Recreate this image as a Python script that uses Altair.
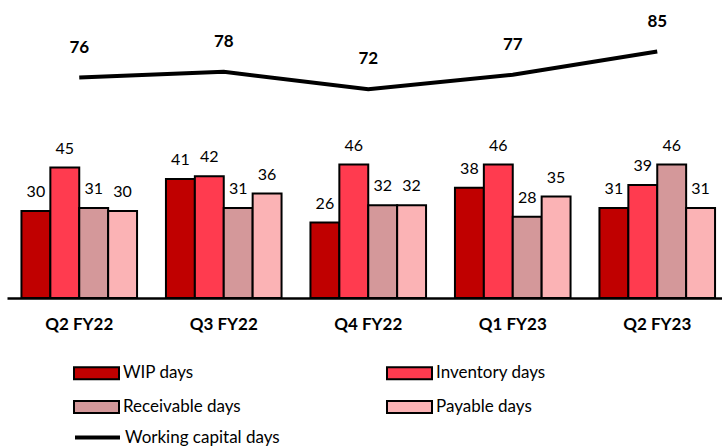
import altair as alt
import pandas as pd

quarters = ["Q2 FY22", "Q3 FY22", "Q4 FY22", "Q1 FY23", "Q2 FY23"]
series = ["WIP days", "Inventory days", "Receivable days", "Payable days"]
colors = ["#C00000", "#FF3B4F", "#D4989A", "#FBB3B5"]
wip = [30, 41, 26, 38, 31]
inventory = [45, 42, 46, 46, 39]
receivable = [31, 31, 32, 28, 46]
payable = [30, 36, 32, 35, 31]
working_capital = [76, 78, 72, 77, 85]

rows = []
for i, q in enumerate(quarters):
    for s, vals in zip(series, [wip, inventory, receivable, payable]):
        rows.append({"quarter": q, "series": s, "value": vals[i]})
bars_df = pd.DataFrame(rows)
line_df = pd.DataFrame({"quarter": quarters, "value": working_capital,
                        "series": ["Working capital days"] * len(quarters)})

FONT = "Lato"

xscale = alt.Scale(domain=quarters, range=[0, 722.5], paddingInner=0.2, paddingOuter=0.1)
yscale = alt.Scale(domain=[0, 100])

x = alt.X("quarter:N", scale=xscale, sort=quarters,
          axis=alt.Axis(title=None, labelAngle=0, domainColor="black", domainWidth=2.5,
                        ticks=False, labelFont=FONT, labelFontWeight="bold", labelFontSize=17,
                        labelColor="black", labelPadding=26, labelBaseline="middle"))
y = alt.Y("value:Q", scale=yscale, axis=None)
xoff = alt.XOffset("series:N", sort=series, scale=alt.Scale(domain=series, paddingInner=0, paddingOuter=0))

bars = alt.Chart(bars_df).mark_bar(stroke="black", strokeWidth=2).encode(
    x=x, xOffset=xoff, y=y,
    fill=alt.Fill("series:N", sort=series, scale=alt.Scale(domain=series, range=colors),
                  legend=alt.Legend(title=None, orient="none", legendX=66, legendY=341.5,
                                    direction="horizontal",
                                    columns=2, columnPadding=142, rowPadding=-14,
                                    symbolType="M-1,-0.27H1V0.27H-1Z", symbolSize=2025,
                                    symbolStrokeColor="black", symbolStrokeWidth=2,
                                    labelFont=FONT, labelFontSize=17, labelColor="black",
                                    labelOffset=3, padding=0)),
)

bar_labels = alt.Chart(bars_df).mark_text(dy=-14, baseline="alphabetic", font=FONT,
                                          fontSize=16, color="black").encode(
    x=x, xOffset=xoff, y=y, text="value:Q")

line = alt.Chart(line_df).mark_line(strokeWidth=4).encode(
    x=x, y=y,
    stroke=alt.Stroke("series:N", scale=alt.Scale(domain=["Working capital days"], range=["black"]),
                      legend=alt.Legend(title=None, orient="none", legendX=66, legendY=405,
                                        symbolType="stroke", symbolSize=2025, symbolStrokeWidth=4,
                                        labelFont=FONT, labelFontSize=17, labelColor="black",
                                        labelOffset=3, padding=0)),
)

line_labels = alt.Chart(line_df).mark_text(dy=-25, baseline="alphabetic", font=FONT,
                                           fontSize=17, fontWeight="bold", color="black").encode(
    x=x, y=y, text="value:Q")

chart = alt.layer(bars, bar_labels, line, line_labels).properties(
    width=715, height=290,
    padding={"left": 7, "top": 8, "right": 0, "bottom": 149},
    autosize=alt.AutoSizeParams(type="none"),
).resolve_legend(fill="independent", stroke="independent").configure_view(stroke=None)

chart.save("out.html", embed_options={"renderer": "svg", "actions": False})
